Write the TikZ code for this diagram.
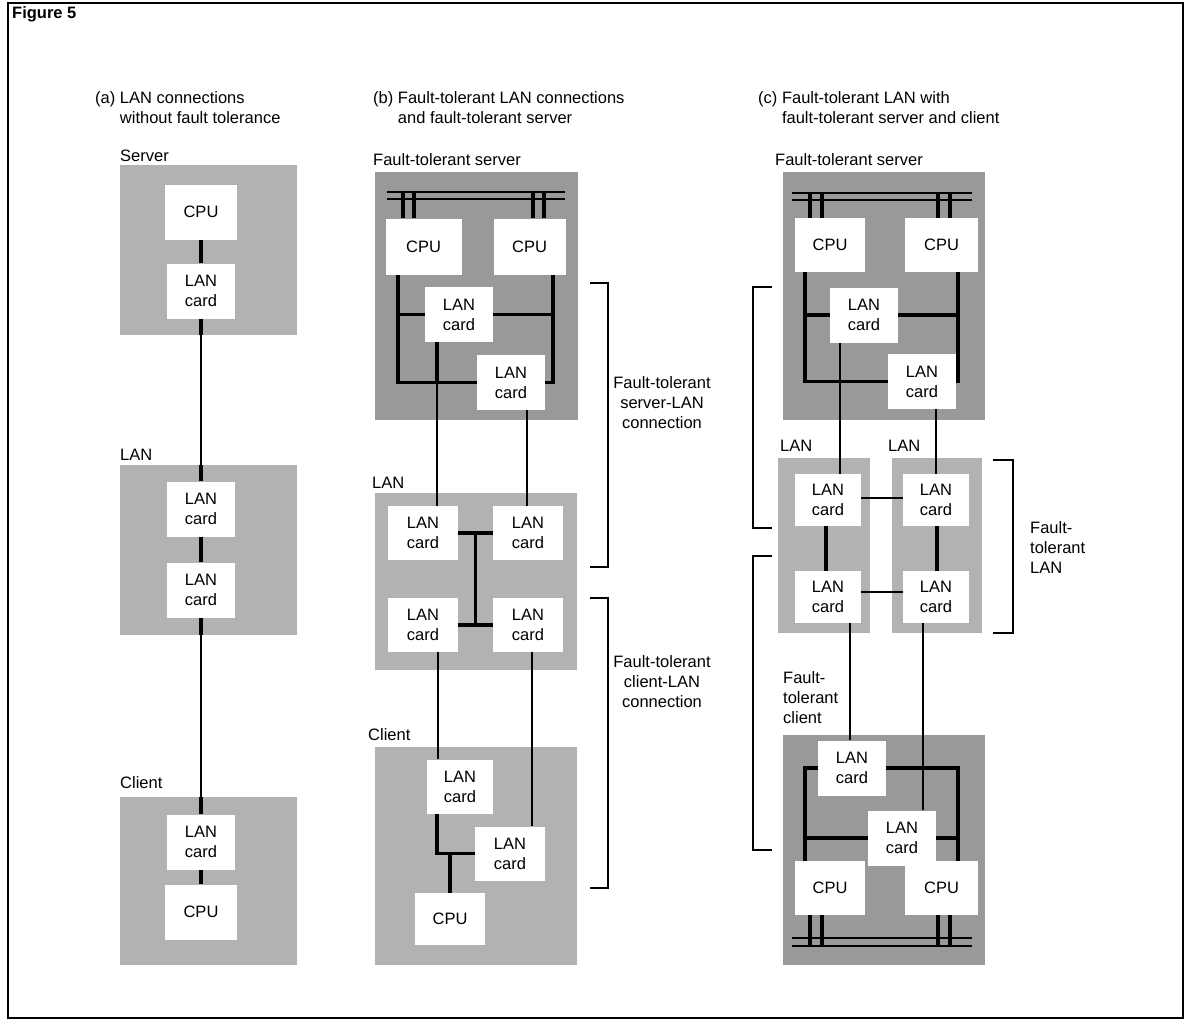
\documentclass[tikz,border=0pt]{standalone}
\usepackage{fontspec}
\setmainfont{Liberation Sans}
\usetikzlibrary{calc,positioning}
\definecolor{zonegray}{gray}{0.70}
\definecolor{zonedark}{gray}{0.60}
\newcommand\figfont{\fontsize{16.5}{20}\selectfont}
\tikzset{
  zone/.style={fill=zonegray, draw=none, inner sep=0pt},
  zonedk/.style={zone, fill=zonedark},
  cardbox/.style={fill=white, inner sep=0pt, align=center, minimum width=68pt, minimum height=55pt, font=\figfont},
  cpubox/.style={cardbox, minimum width=72pt},
  wire/.style={line width=1.4pt},
  link/.style={line width=3.2pt},
  busline/.style={line width=2.2pt},
  bracket/.style={line width=1.4pt},
  zonename/.style={anchor=base west, inner sep=0pt, font=\figfont},
  heading/.style={anchor=north west, inner sep=0pt, align=left, font=\figfont},
  sidenote/.style={inner sep=0pt, align=center, font=\figfont}
}

\begin{document}
\begin{tikzpicture}[x=1pt, y=-1pt]
  \useasboundingbox (0,0) rectangle (1190,1027);
  \draw[line width=1.5pt] (8,3) rectangle (1183,1018);
  \node[anchor=base west, inner sep=0pt, font=\figfont\bfseries] (fig) at (12,19) {Figure 5};

  % (a) no fault tolerance
  \node[heading] (atitle) at (95,91) {(a) LAN connections\\\phantom{(a) }without fault tolerance};
  \node[zonename] (aservertxt) at (120,161) {Server};
  \node[zonename] (alantxt) at (120,460) {LAN};
  \node[zonename] (aclienttxt) at (120,788) {Client};
  \node[zone, minimum width=177pt, minimum height=170pt] (aserver) at (208.5,250) {};
  \node[zone, minimum width=177pt, minimum height=170pt] (alan) at (208.5,550) {};
  \node[zone, minimum width=177pt, minimum height=168pt] (aclient) at (208.5,881) {};
  \node[cpubox] (acpu) at (201,212) {CPU};
  \node[cardbox] (acard) at (201,291) {LAN\\card};
  \node[cardbox] (alcard1) at (201,509) {LAN\\card};
  \node[cardbox] (alcard2) at (201,590) {LAN\\card};
  \node[cardbox] (accard) at (201,842) {LAN\\card};
  \node[cpubox] (accpu) at (201,912) {CPU};
  \draw[link] (acpu) -- (acard);
  \draw[wire] (acard) -- (alcard1);
  \draw[link] (acard.south) -- (acard.south |- aserver.south);
  \draw[link] (alcard1.north |- alan.north) -- (alcard1.north);
  \draw[link] (alcard1) -- (alcard2);
  \draw[wire] (alcard2) -- (accard);
  \draw[link] (alcard2.south) -- (alcard2.south |- alan.south);
  \draw[link] (accard.north |- aclient.north) -- (accard.north);
  \draw[link] (accard) -- (accpu);

  % (b) fault-tolerant server and connections
  \node[heading] (btitle) at (373,91) {(b) Fault-tolerant LAN connections\\\phantom{(b) }and fault-tolerant server};
  \node[zonename] (bservertxt) at (373,166) {Fault-tolerant server};
  \node[zonename] (blantxt) at (372,488) {LAN};
  \node[zonename] (bclienttxt) at (368,740) {Client};
  \node[zonedk, minimum width=203pt, minimum height=248pt] (bserver) at (476.5,296) {};
  \node[zone, minimum width=202pt, minimum height=177pt] (blan) at (476,581.5) {};
  \node[zone, minimum width=202pt, minimum height=218pt] (bclient) at (476,856) {};
  \draw[busline] (387,192) -- (565,192);
  \draw[busline] (387,199) -- (565,199);
  \node[cpubox, minimum width=76pt, minimum height=56pt] (bcpu1) at (423.5,246.5) {CPU};
  \node[cpubox, minimum height=56pt] (bcpu2) at (529.5,246.5) {CPU};
  \foreach \dx in {-20.5,-9.5} \draw[link] ([xshift=\dx pt]bcpu1.north) -- ++(0,-27);
  \foreach \dx in {3.5,14.5} \draw[link] ([xshift=\dx pt]bcpu2.north) -- ++(0,-27);
  \node[cardbox] (bscard1) at (459,314.5) {LAN\\card};
  \node[cardbox] (bscard2) at (511,382.5) {LAN\\card};
  \coordinate (bL) at ([xshift=-25.5pt]bcpu1.south);
  \coordinate (bR) at ([xshift=23.5pt]bcpu2.south);
  \draw[link] (bL) |- (bscard2.west);
  \draw[link] (bR) |- (bscard2.east);
  \draw[link] (bscard1.west) -- (bscard1.west -| bL);
  \draw[link] (bscard1.east) -- (bscard1.east -| bR);
  \node[cardbox, minimum width=70pt, minimum height=54pt] (blcard1) at (423,533) {LAN\\card};
  \node[cardbox, minimum width=70pt, minimum height=54pt] (blcard2) at (528,533) {LAN\\card};
  \node[cardbox, minimum width=70pt, minimum height=54pt] (blcard3) at (423,625) {LAN\\card};
  \node[cardbox, minimum width=70pt, minimum height=54pt] (blcard4) at (528,625) {LAN\\card};
  \draw[wire] ([xshift=-22pt]bscard1.south) -- ([xshift=-22pt]bscard1.south |- blcard1.north);
  \draw[link] ([xshift=-22pt]bscard1.south) -- ++(0,40);
  \draw[wire] ([xshift=16pt]bscard2.south) -- ([xshift=16pt]bscard2.south |- blcard2.north);
  \draw[link] (blcard1.east) -- (blcard2.west);
  \draw[link] (blcard3.east) -- (blcard4.west);
  \draw[link] ($(blcard1.east)!0.5!(blcard2.west)$) -- ($(blcard3.east)!0.5!(blcard4.west)$);
  \node[cardbox, minimum width=66pt, minimum height=54pt] (bccard1) at (460,786.5) {LAN\\card};
  \node[cardbox, minimum width=70pt, minimum height=54pt] (bccard2) at (510,853.5) {LAN\\card};
  \node[cpubox, minimum width=70pt, minimum height=52pt] (bccpu) at (450,919) {CPU};
  \draw[wire] ([xshift=15pt]blcard3.south) -- ([xshift=15pt]blcard3.south |- bccard1.north);
  \draw[wire] ([xshift=4pt]blcard4.south) -- ([xshift=4pt]blcard4.south |- bccard2.north);
  \draw[link] ([xshift=-23pt]bccard1.south) |- (bccard2.west);
  \draw[link] (bccpu.north) -- (bccpu.north |- bccard2.west);
  \draw[bracket] (590,283) -| (608,567) -- (590,567);
  \draw[bracket] (590,598) -| (608,888) -- (590,888);
  \node[sidenote] (bsrvnote) at (662,403) {Fault-tolerant\\server-LAN\\connection};
  \node[sidenote] (bclinote) at (662,682) {Fault-tolerant\\client-LAN\\connection};

  % (c) fault-tolerant LAN, server and client
  \node[heading] (ctitle) at (758,91) {(c) Fault-tolerant LAN with\\\phantom{(c) }fault-tolerant server and client};
  \node[zonename] (cservertxt) at (775,166) {Fault-tolerant server};
  \node[zonename] (clantxt1) at (780,451) {LAN};
  \node[zonename] (clantxt2) at (888,451) {LAN};
  \node[zonedk, minimum width=202pt, minimum height=248pt] (cserver) at (884,296) {};
  \node[zone, minimum width=92pt, minimum height=175pt] (clan1) at (824,545.5) {};
  \node[zone, minimum width=90pt, minimum height=175pt] (clan2) at (937,545.5) {};
  \node[zonedk, minimum width=202pt, minimum height=230pt] (cclient) at (884,850) {};
  \draw[busline] (792,193) -- (972,193);
  \draw[busline] (792,200) -- (972,200);
  \node[cpubox, minimum width=70pt, minimum height=54pt] (ccpu1) at (830,245) {CPU};
  \node[cpubox, minimum width=73pt, minimum height=54pt] (ccpu2) at (941.5,245) {CPU};
  \foreach \dx in {-20,-8} \draw[link] ([xshift=\dx pt]ccpu1.north) -- ++(0,-26);
  \foreach \dx in {-3.5,8.5} \draw[link] ([xshift=\dx pt]ccpu2.north) -- ++(0,-26);
  \node[cardbox] (cscard1) at (864,315) {LAN\\card};
  \node[cardbox] (cscard2) at (922,381.5) {LAN\\card};
  \coordinate (cL) at ([xshift=-25pt]ccpu1.south);
  \coordinate (cR) at ([xshift=16.5pt]ccpu2.south);
  \draw[link] (cL) |- (cscard2.west);
  \draw[link] (cR) |- (cscard2.east);
  \draw[link] (cscard1.west) -- (cscard1.west -| cL);
  \draw[link] (cscard1.east) -- (cscard1.east -| cR);
  \node[cardbox, minimum width=66pt, minimum height=52pt] (clcard1) at (828,500) {LAN\\card};
  \node[cardbox, minimum width=66pt, minimum height=52pt] (clcard2) at (936,500) {LAN\\card};
  \node[cardbox, minimum width=66pt, minimum height=52pt] (clcard3) at (828,597) {LAN\\card};
  \node[cardbox, minimum width=66pt, minimum height=52pt] (clcard4) at (936,597) {LAN\\card};
  \draw[wire] ([xshift=-24pt]cscard1.south) -- ([xshift=-24pt]cscard1.south |- clcard1.north);
  \draw[wire] ([xshift=14pt]cscard2.south) -- ([xshift=14pt]cscard2.south |- clcard2.north);
  \draw[link] ([xshift=-2pt]clcard1.south) -- ([xshift=-2pt]clcard3.north);
  \draw[link] ([xshift=1pt]clcard2.south) -- ([xshift=1pt]clcard4.north);
  \draw[wire] ([yshift=2pt]clcard1.east) -- ([yshift=2pt]clcard2.west);
  \draw[wire] ([yshift=5pt]clcard3.east) -- ([yshift=5pt]clcard4.west);
  \node[cardbox] (cccard1) at (852,768) {LAN\\card};
  \node[cardbox] (cccard2) at (902,838) {LAN\\card};
  \node[cpubox, minimum width=70pt, minimum height=54pt] (cccpu1) at (830,888) {CPU};
  \node[cpubox, minimum width=73pt, minimum height=54pt] (cccpu2) at (941.5,888) {CPU};
  \coordinate (cL2) at ([xshift=-25pt]cccpu1.north);
  \coordinate (cR2) at ([xshift=16.5pt]cccpu2.north);
  \draw[wire] ([xshift=22pt]clcard3.south) -- ([xshift=22pt]clcard3.south |- cccard1.north);
  \draw[wire] ([xshift=-13pt]clcard4.south) -- ([xshift=-13pt]clcard4.south |- cccard2.north);
  \draw[link] (cccard1.west) -| (cL2);
  \draw[link] (cccard1.east) -| (cR2);
  \draw[link] (cccard2.west) -- (cccard2.west -| cL2);
  \draw[link] (cccard2.east) -- (cccard2.east -| cR2);
  \draw[busline] (792,938) -- (972,938);
  \draw[busline] (792,946) -- (972,946);
  \foreach \dx in {-20,-8} \draw[link] ([xshift=\dx pt]cccpu1.south) -- ++(0,31);
  \foreach \dx in {-3.5,8.5} \draw[link] ([xshift=\dx pt]cccpu2.south) -- ++(0,31);
  \draw[bracket] (772,287) -| (753,528) -- (772,528);
  \draw[bracket] (772,556) -| (753,850) -- (772,850);
  \draw[bracket] (993,460) -| (1013,633) -- (993,633);
  \node[sidenote, align=left, anchor=west] (clannote) at (1030,548) {Fault-\\tolerant\\LAN};
  \node[sidenote, align=left, anchor=west] (cclinote) at (783,698) {Fault-\\tolerant\\client};
\end{tikzpicture}
\end{document}
